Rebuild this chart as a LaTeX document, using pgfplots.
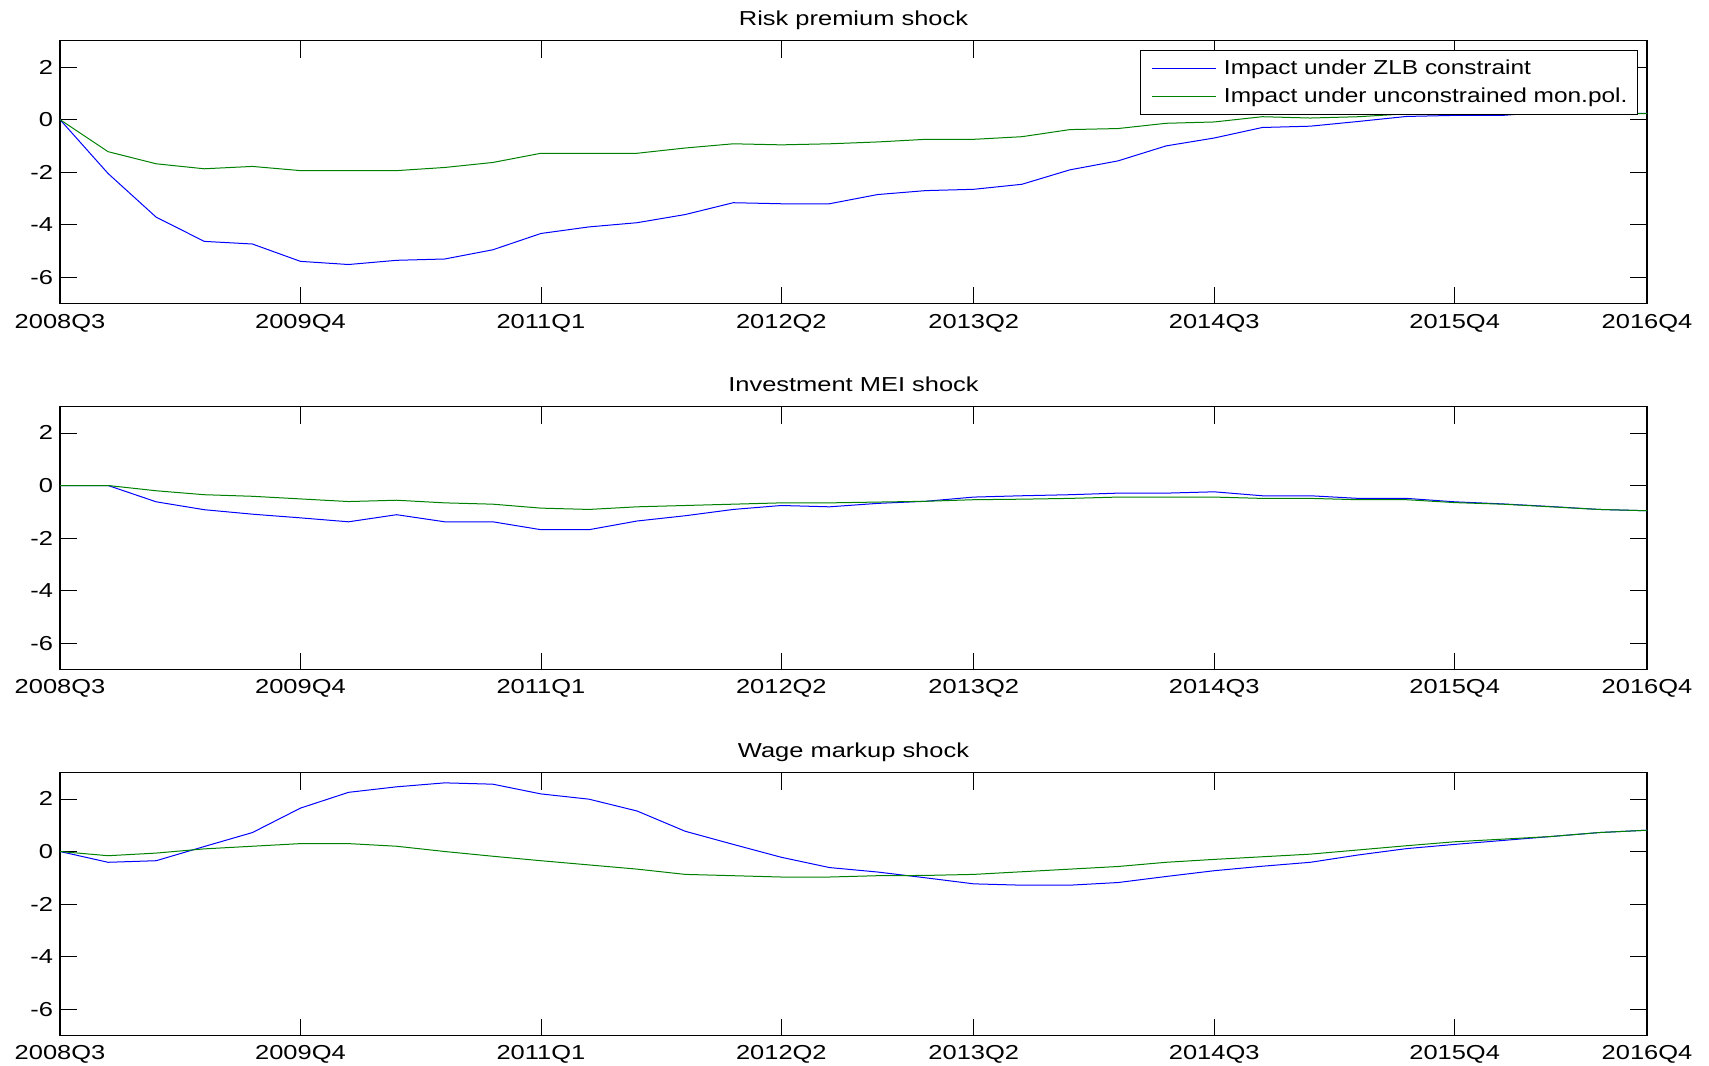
\documentclass[border=0pt]{standalone}
\usepackage{fontspec}
\setmainfont{Liberation Sans}[FakeStretch=1.26]
\newfontfamily\legfont{Liberation Sans}[FakeStretch=1.21]
\usepackage{pgfplots}
\usepackage{pgfplotstable}
\pgfplotsset{compat=1.18}
\definecolor{mblue}{rgb}{0,0,1}
\definecolor{mgreen}{rgb}{0,0.5,0}

\pgfplotstableread{
x zlb unc
0 0 0
1 -2.05 -1.22
2 -3.71 -1.68
3 -4.63 -1.87
4 -4.73 -1.78
5 -5.39 -1.94
6 -5.51 -1.94
7 -5.35 -1.94
8 -5.30 -1.82
9 -4.95 -1.63
10 -4.33 -1.28
11 -4.08 -1.28
12 -3.92 -1.28
13 -3.61 -1.08
14 -3.16 -0.92
15 -3.20 -0.96
16 -3.20 -0.92
17 -2.85 -0.85
18 -2.70 -0.75
19 -2.65 -0.75
20 -2.46 -0.65
21 -1.91 -0.38
22 -1.57 -0.34
23 -1.00 -0.14
24 -0.70 -0.09
25 -0.30 0.11
26 -0.25 0.06
27 -0.07 0.11
28 0.12 0.22
29 0.16 0.24
30 0.16 0.27
31 0.30 0.29
32 0.24 0.23
33 0.24 0.23
}\riskdata

\pgfplotstableread{
x zlb unc
0 0 0
1 0 0
2 -0.62 -0.20
3 -0.92 -0.35
4 -1.09 -0.41
5 -1.23 -0.51
6 -1.38 -0.61
7 -1.11 -0.56
8 -1.38 -0.66
9 -1.38 -0.71
10 -1.68 -0.86
11 -1.68 -0.91
12 -1.35 -0.81
13 -1.15 -0.76
14 -0.91 -0.71
15 -0.76 -0.66
16 -0.81 -0.66
17 -0.68 -0.63
18 -0.60 -0.60
19 -0.44 -0.54
20 -0.39 -0.52
21 -0.35 -0.49
22 -0.29 -0.44
23 -0.29 -0.44
24 -0.24 -0.44
25 -0.39 -0.49
26 -0.39 -0.49
27 -0.49 -0.54
28 -0.49 -0.54
29 -0.62 -0.65
30 -0.70 -0.71
31 -0.80 -0.81
32 -0.91 -0.91
33 -0.96 -0.96
}\meidata

\pgfplotstableread{
x zlb unc
0 0 0
1 -0.41 -0.16
2 -0.35 -0.06
3 0.19 0.10
4 0.72 0.20
5 1.65 0.30
6 2.25 0.30
7 2.46 0.20
8 2.61 0.00
9 2.56 -0.18
10 2.19 -0.35
11 1.99 -0.51
12 1.54 -0.67
13 0.77 -0.87
14 0.27 -0.92
15 -0.22 -0.97
16 -0.61 -0.97
17 -0.78 -0.92
18 -1.00 -0.91
19 -1.23 -0.87
20 -1.28 -0.77
21 -1.28 -0.67
22 -1.18 -0.57
23 -0.95 -0.41
24 -0.73 -0.30
25 -0.56 -0.20
26 -0.41 -0.10
27 -0.13 0.06
28 0.11 0.22
29 0.27 0.37
30 0.42 0.47
31 0.57 0.57
32 0.72 0.72
33 0.81 0.81
}\wagedata

\pgfplotsset{
  panel/.style={
    scale only axis, width=793.5pt, height=131.5pt,
    anchor=north west,
    xmin=0, xmax=33, ymin=-7, ymax=3,
    xtick={0,5,10,15,19,24,29,33},
    xticklabels={2008Q3,2009Q4,2011Q1,2012Q2,2013Q2,2014Q3,2015Q4,2016Q4},
    ytick={-6,-4,-2,0,2},
    yticklabels={-6,-4,-2,0,2},
    /pgf/number format/assume math mode=true,
    tick align=inside, major tick length=8.5pt,
    axis line style={line width=0.6pt, black},
    tick style={black, line width=0.4pt},
    ticklabel style={font=\fontsize{10.1}{12}\selectfont},
    xticklabel style={yshift=-1.6pt},
    title style={font=\fontsize{10.1}{12}\selectfont, at={(0.5,1)}, anchor=base, yshift=1.6pt},
    every axis plot/.append style={line width=0.5pt},
  },
}

\begin{document}
\begin{tikzpicture}
\path[use as bounding box] (0,0) rectangle (854.5pt,-533pt);

\begin{axis}[panel, at={(30pt,-20.35pt)}, title={Risk premium shock},
  legend style={at={(1,1)}, anchor=north east, xshift=-4.5pt, yshift=-4.7pt,
    draw=black, line width=0.5pt, font=\legfont\fontsize{10.1}{12}\selectfont,
    inner xsep=1.5pt, inner ysep=2.4pt, row sep=1.3pt,
    nodes={inner xsep=3.5pt, inner ysep=2pt}},
  legend cell align=left,
  legend image code/.code={\path (-4pt,0pt); \draw[#1, line width=0.5pt] (0pt,0pt) -- (32pt,0pt);},
]
\addplot[mblue] table[x=x, y=zlb] {\riskdata};
\addplot[mgreen] table[x=x, y=unc] {\riskdata};
\legend{Impact under ZLB constraint, Impact under unconstrained mon.pol.}
\end{axis}

\begin{axis}[panel, at={(30pt,-203.3pt)}, title={Investment MEI shock}]
\addplot[mblue] table[x=x, y=zlb] {\meidata};
\addplot[mgreen] table[x=x, y=unc] {\meidata};
\end{axis}

\begin{axis}[panel, at={(30pt,-386.3pt)}, title={Wage markup shock}]
\addplot[mblue] table[x=x, y=zlb] {\wagedata};
\addplot[mgreen] table[x=x, y=unc] {\wagedata};
\end{axis}
\end{tikzpicture}
\end{document}
